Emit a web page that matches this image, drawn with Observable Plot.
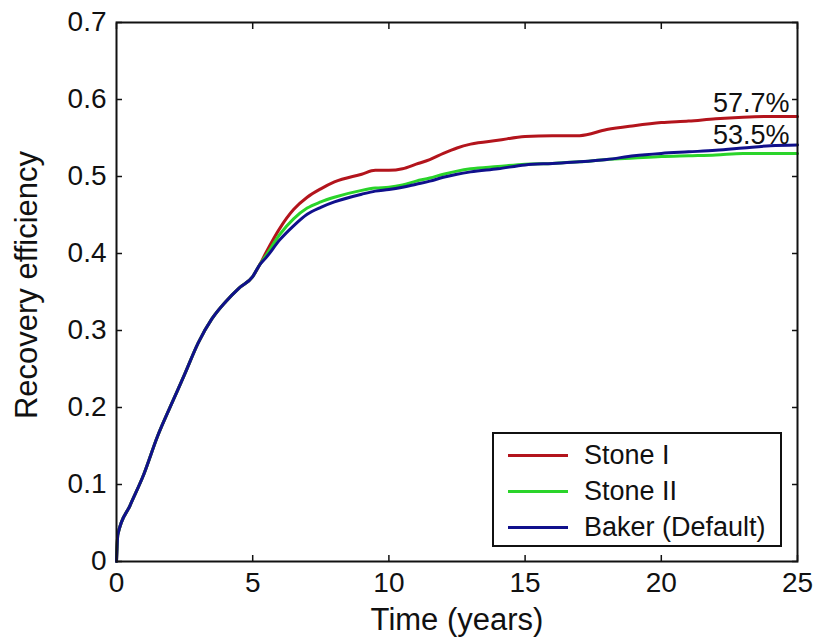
<!DOCTYPE html>
<html>
<head>
<meta charset="utf-8">
<script src="https://cdn.jsdelivr.net/npm/d3@7"></script>
<script src="https://cdn.jsdelivr.net/npm/@observablehq/plot@0.6"></script>
<style>
  html, body { margin: 0; padding: 0; background: white; }
  #wrap { position: relative; width: 819px; height: 642px; }
  #legend {
    position: absolute; left: 492px; top: 432px; width: 286px; height: 111px;
    border: 2px solid #111; background: white; box-sizing: content-box;
    font-family: "Liberation Sans", Arial, sans-serif; font-size: 27px; color: #111;
  }
  .row { position: absolute; left: 0; height: 36px; display: flex; align-items: center; }
  .sw { width: 60px; height: 3px; margin-left: 14px; margin-right: 16px; }
</style>
</head>
<body>
<div id="wrap"></div>
<script>
const series = ["Stone I", "Stone II", "Baker (Default)"];
const colors = ["#b3141c", "#2ad42a", "#10108c"];

const time = [0, 0.05, 0.5, 1, 1.5, 2, 2.5, 3, 3.5, 4, 4.5, 5, 5.25, 5.5, 6, 6.5, 7, 7.5, 8, 9, 9.5, 10, 10.5, 11, 11.5, 12, 12.5, 13, 14, 15, 16, 17, 18, 19, 20, 21, 22, 23, 24, 25];

const stoneI = [0, 0.035, 0.073, 0.113, 0.162, 0.203, 0.243, 0.284, 0.315, 0.337, 0.355, 0.370, 0.385, 0.402, 0.433, 0.457, 0.473, 0.484, 0.493, 0.503, 0.508, 0.508, 0.510, 0.516, 0.522, 0.530, 0.537, 0.542, 0.547, 0.552, 0.553, 0.553, 0.561, 0.566, 0.570, 0.572, 0.575, 0.577, 0.578, 0.578];

const stoneII = [0, 0.035, 0.073, 0.113, 0.162, 0.203, 0.243, 0.284, 0.315, 0.337, 0.355, 0.370, 0.385, 0.398, 0.425, 0.445, 0.459, 0.467, 0.473, 0.482, 0.485, 0.486, 0.489, 0.494, 0.498, 0.503, 0.507, 0.510, 0.513, 0.516, 0.517, 0.519, 0.522, 0.524, 0.526, 0.527, 0.528, 0.530, 0.530, 0.530];

const baker = [0, 0.035, 0.073, 0.113, 0.162, 0.203, 0.243, 0.284, 0.315, 0.337, 0.355, 0.370, 0.385, 0.395, 0.418, 0.436, 0.451, 0.460, 0.467, 0.477, 0.481, 0.483, 0.486, 0.490, 0.494, 0.499, 0.503, 0.506, 0.510, 0.515, 0.517, 0.519, 0.522, 0.527, 0.530, 0.532, 0.534, 0.537, 0.540, 0.541];

const endLabels = ["57.7%", "53.5%"];
const endValues = [0.577, 0.535];
const endTime = 25;

const xTicks = [0, 5, 10, 15, 20, 25];
const yTicks = [0, 0.1, 0.2, 0.3, 0.4, 0.5, 0.6, 0.7];
const xTitle = "Time (years)";
const yTitle = "Recovery efficiency";

const allSeries = [stoneI, stoneII, baker];
const rows = [];
allSeries.forEach((vals, si) => time.forEach((t, i) => rows.push({series: series[si], t, v: vals[i]})));
const labelRows = endLabels.map((label, i) => ({t: endTime, v: endValues[i], label}));

const font = "Liberation Sans, Arial, sans-serif";
const blank = () => "";

const chart = Plot.plot({
  width: 819,
  height: 642,
  marginLeft: 116,
  marginRight: 22,
  marginTop: 22,
  marginBottom: 81,
  x: {domain: [0, 25]},
  y: {domain: [0, 0.7]},
  color: {domain: series, range: colors},
  style: {fontFamily: font, fontSize: "28px", color: "#111", background: "white", overflow: "visible"},
  marks: [
    Plot.axisX(xTicks, {anchor: "bottom", tickSize: 0, tickPadding: 11, fontSize: 28, label: null}),
    Plot.axisY(yTicks, {anchor: "left", tickSize: 0, tickPadding: 10, fontSize: 28, label: null,
      tickFormat: d => d === 0 ? "0" : d.toFixed(1)}),
    Plot.axisX(xTicks, {anchor: "bottom", tickSize: 6, dy: -6, tickFormat: blank, label: null, strokeWidth: 1.5}),
    Plot.axisX(xTicks, {anchor: "top", tickSize: 6, dy: 6, tickFormat: blank, label: null, strokeWidth: 1.5}),
    Plot.axisY(yTicks, {anchor: "left", tickSize: 6, dx: 6, tickFormat: blank, label: null, strokeWidth: 1.5}),
    Plot.axisY(yTicks, {anchor: "right", tickSize: 6, dx: -6, tickFormat: blank, label: null, strokeWidth: 1.5}),
    Plot.line(rows, {x: "t", y: "v", z: "series", stroke: "series", strokeWidth: 3, curve: "monotone-x"}),
    Plot.frame({stroke: "#111", strokeWidth: 2}),
    Plot.text(labelRows, {x: "t", y: "v", text: "label", textAnchor: "end", dx: -8, dy: -14, fontSize: 27, fill: "#111"}),
    Plot.text([xTitle], {frameAnchor: "bottom", textAnchor: "middle", dy: 68, fontSize: 31, fill: "#111"}),
    Plot.text([yTitle], {frameAnchor: "left", textAnchor: "middle", dx: -89, dy: -7, rotate: -90, fontSize: 31, fill: "#111"})
  ]
});

const wrap = document.getElementById("wrap");
wrap.appendChild(chart);

const legend = document.createElement("div");
legend.id = "legend";
series.forEach((name, i) => {
  const row = document.createElement("div");
  row.className = "row";
  row.style.top = (3 + i * 36) + "px";
  const sw = document.createElement("div");
  sw.className = "sw";
  sw.style.background = colors[i];
  const label = document.createElement("span");
  label.textContent = name;
  row.appendChild(sw);
  row.appendChild(label);
  legend.appendChild(row);
});
wrap.appendChild(legend);
</script>
</body>
</html>
